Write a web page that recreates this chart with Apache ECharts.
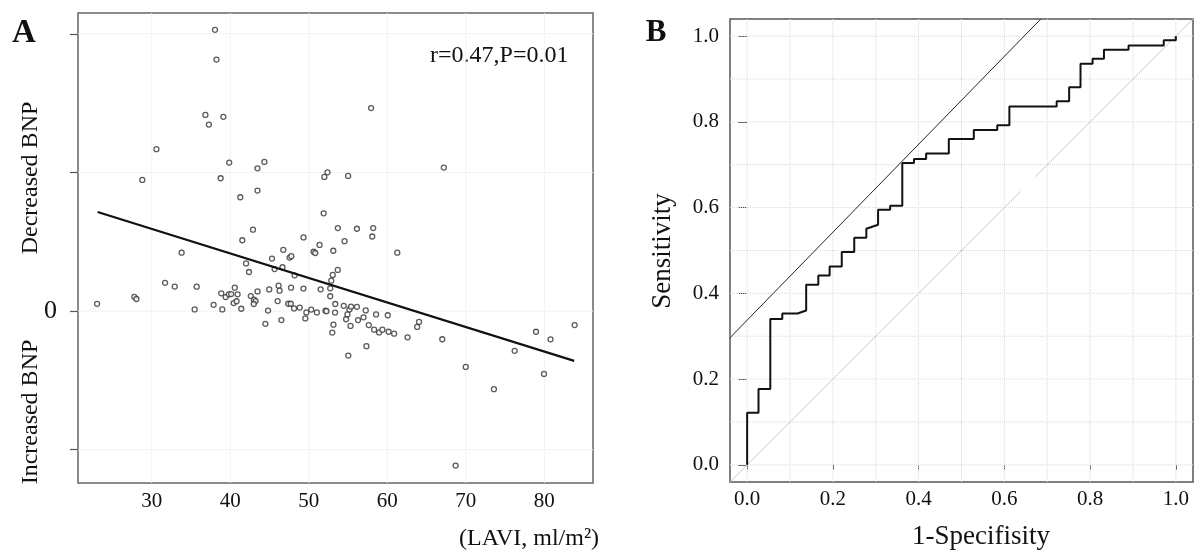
<!DOCTYPE html>
<html><head><meta charset="utf-8">
<script src="https://cdn.jsdelivr.net/npm/echarts@6/dist/echarts.min.js"></script>
<style>html,body{margin:0;padding:0;background:#fff;}#c{width:1194px;height:551px;}</style>
</head><body><div id="c"></div>
<script>
// ---- Panel A data: LAVI (ml/m2) vs change in BNP ----
const laviX = [38.05,38.24,57.93,36.83,39.12,37.27,30.59,39.86,44.34,43.46,67.20,52.38,51.98,55.01,28.79,38.77,43.46,41.27,51.89,
42.89,53.70,56.13,58.20,58.08,41.53,49.33,54.55,51.37,50.61,50.82,53.12,61.27,33.80,46.75,45.31,47.55,47.77,42.01,42.38,45.64,46.65,48.19,53.69,53.05,52.86,52.73,31.69,32.92,35.72,40.57,43.47,44.96,46.15,46.28,47.74,49.32,51.51,
23.03,27.77,28.04,35.46,37.87,38.98,38.85,39.41,39.81,40.11,40.93,40.43,40.80,41.40,42.61,43.02,43.22,42.99,44.47,44.81,46.03,46.51,47.38,47.70,48.12,48.84,49.69,49.55,50.31,51.03,52.13,52.25,52.73,53.37,53.34,53.14,52.99,54.45,54.92,55.18,55.38,54.75,55.31,56.13,56.27,56.97,57.25,57.64,58.57,60.06,58.32,58.96,59.37,60.16,60.87,57.34,55.03,62.58,64.04,63.80,67.00,69.99,68.70,73.58,76.22,78.94,79.96,80.79,83.86];
const bnpY = [202.9,181.4,146.4,141.5,140.1,134.5,116.8,107.1,107.6,103.0,103.5,100.1,96.8,97.5,94.6,95.8,86.9,82.1,70.5,
58.7,59.9,59.4,59.9,53.8,51.1,53.1,50.4,47.7,42.8,41.9,43.5,42.1,42.1,44.2,37.9,38.6,39.6,34.4,28.2,30.3,31.6,25.8,29.7,26.1,21.9,16.4,20.4,17.7,17.6,16.9,14.2,15.6,18.3,14.7,16.9,16.2,15.7,
5.2,10.3,8.7,1.2,4.5,1.2,12.8,10.1,12.1,12.3,12.1,5.8,7.1,1.7,10.8,8.2,7.2,5.1,-9.2,0.4,7.2,-6.5,5.3,5.3,1.9,2.5,-1.0,-5.3,1.1,-1.0,0.3,-0.1,10.7,5.1,-1.1,-9.8,-15.5,3.8,-2.4,1.2,3.2,-5.9,-10.7,3.1,-6.5,-4.5,0.5,-10.1,-2.4,-3.0,-13.4,-15.4,-13.4,-14.9,-16.3,-25.3,-32.1,-18.9,-7.8,-11.4,-20.3,-40.3,-111.4,-56.3,-28.7,-14.9,-45.3,-20.4,-10.1];
const regX = [23.1, 83.8];
const regY = [71.5, -35.9];
const aXTicks = [30, 40, 50, 60, 70, 80];
const aYTicks = [-100, 0, 100, 200];
const aYLabels = [0];

// ---- Panel B data: ROC curve ----
const rocFpr = [0,0,0.0265,0.0265,0.054,0.054,0.082,0.082,0.1174,0.1377,0.1377,0.166,0.166,0.1924,0.1924,0.2207,0.2207,0.2498,0.2498,0.278,0.278,0.3054,0.3054,0.3336,0.3336,0.3619,0.3619,0.3892,0.3892,0.4175,0.4175,0.4704,0.4704,0.5287,0.5287,0.5834,0.5834,0.6117,0.6117,0.722,0.722,0.7511,0.7511,0.7776,0.7776,0.8058,0.8058,0.8323,0.8323,0.8897,0.8897,0.9718,0.9718,1.0,1.0];
const rocSens = [0,0.1215,0.1215,0.177,0.177,0.340,0.340,0.353,0.353,0.360,0.420,0.420,0.4416,0.4416,0.4626,0.4626,0.4963,0.4963,0.5297,0.5297,0.5507,0.560,0.595,0.595,0.6044,0.6044,0.7042,0.7042,0.7136,0.7136,0.726,0.726,0.7603,0.7603,0.7813,0.7813,0.792,0.792,0.8357,0.8357,0.8481,0.8481,0.8808,0.8808,0.9355,0.9355,0.9472,0.9472,0.9682,0.9682,0.9782,0.9782,0.9907,0.9907,1.0];
const diag1 = [-0.04, 0.638];
const diag2 = [0.672, 1.04];
const tanX = [-0.0415, 0.685];
const tanY = [0.295, 1.04];
const bTicks = [0, 0.2, 0.4, 0.6, 0.8, 1.0];
const bGrid = [0, 0.1, 0.2, 0.3, 0.4, 0.5, 0.6, 0.7, 0.8, 0.9, 1.0];

const FONT = 'Liberation Serif';
const chart = echarts.init(document.getElementById('c'), null, {renderer: 'canvas'});
const pairs = (xs, ys) => xs.map((x, i) => [x, ys[i]]);

// grid-line helper series (drawn underneath the data)
function gridSeries(axisIdx, values, xmin, xmax, ymin, ymax, style) {
  const out = [];
  values.forEach(v => {
    out.push({type: 'line', xAxisIndex: axisIdx, yAxisIndex: axisIdx, data: [[v, ymin], [v, ymax]],
      symbol: 'none', silent: true, z: 1, lineStyle: style});
    out.push({type: 'line', xAxisIndex: axisIdx, yAxisIndex: axisIdx, data: [[xmin, v], [xmax, v]],
      symbol: 'none', silent: true, z: 1, lineStyle: style});
  });
  return out;
}
const aGridLines = [];
aXTicks.forEach(v => aGridLines.push({type: 'line', xAxisIndex: 0, yAxisIndex: 0, data: [[v, -124], [v, 215]],
  symbol: 'none', silent: true, z: 1, lineStyle: {color: '#f2f2f2', width: 1}}));
aYTicks.forEach(v => aGridLines.push({type: 'line', xAxisIndex: 0, yAxisIndex: 0, data: [[20.6, v], [86.2, v]],
  symbol: 'none', silent: true, z: 1, lineStyle: {color: '#f2f2f2', width: 1}}));
const bGridLines = gridSeries(1, bGrid, -0.04, 1.04, -0.04, 1.04, {color: '#d9d9d9', width: 1, type: 'dotted'});

const option = {
  animation: false,
  backgroundColor: '#fff',
  textStyle: {fontFamily: FONT, color: '#111'},
  grid: [
    {left: 78, top: 13, width: 515, height: 470, show: true, borderColor: '#666', borderWidth: 1.5, backgroundColor: 'transparent'},
    {left: 730, top: 19, width: 463, height: 463, show: true, borderColor: '#555', borderWidth: 1.5, backgroundColor: 'transparent'}
  ],
  xAxis: [
    {gridIndex: 0, type: 'value', min: 20.6, max: 86.2,
     axisLine: {show: false}, splitLine: {show: false},
     axisTick: {show: false, customValues: aXTicks},
     axisLabel: {customValues: aXTicks, fontFamily: FONT, fontSize: 21, color: '#111', margin: 8}},
    {gridIndex: 1, type: 'value', min: -0.04, max: 1.04,
     axisLine: {show: false}, splitLine: {show: false},
     axisTick: {show: true, customValues: bTicks, length: 5, lineStyle: {color: '#555'}},
     axisLabel: {customValues: bTicks, fontFamily: FONT, fontSize: 21, color: '#111', margin: 7,
       formatter: v => v.toFixed(1)}}
  ],
  yAxis: [
    {gridIndex: 0, type: 'value', min: -124, max: 215,
     axisLine: {show: false}, splitLine: {show: false},
     axisTick: {show: true, customValues: aYTicks, length: 8, lineStyle: {color: '#555', width: 1.2}},
     axisLabel: {customValues: aYLabels, fontFamily: FONT, fontSize: 26, color: '#111', margin: 21}},
    {gridIndex: 1, type: 'value', min: -0.04, max: 1.04,
     axisLine: {show: false}, splitLine: {show: false},
     axisTick: {show: true, customValues: bTicks, length: 9, lineStyle: {color: '#555'}},
     axisLabel: {customValues: bTicks, fontFamily: FONT, fontSize: 21, color: '#111', margin: 11,
       formatter: v => v.toFixed(1)}}
  ],
  series: aGridLines.concat(bGridLines).concat([
    {type: 'scatter', xAxisIndex: 0, yAxisIndex: 0, data: pairs(laviX, bnpY), symbol: 'circle', symbolSize: 5,
     itemStyle: {color: '#fff', borderColor: '#333', borderWidth: 1.3}, z: 3},
    {type: 'line', xAxisIndex: 0, yAxisIndex: 0, data: pairs(regX, regY), symbol: 'none',
     lineStyle: {color: '#111', width: 2.2}, z: 4},
    {type: 'line', xAxisIndex: 1, yAxisIndex: 1, data: pairs(diag1, diag1), symbol: 'none',
     lineStyle: {color: '#cccccc', width: 1}, z: 2},
    {type: 'line', xAxisIndex: 1, yAxisIndex: 1, data: pairs(diag2, diag2), symbol: 'none',
     lineStyle: {color: '#cccccc', width: 1}, z: 2},
    {type: 'line', xAxisIndex: 1, yAxisIndex: 1, data: pairs(tanX, tanY), symbol: 'none',
     lineStyle: {color: '#1c2240', width: 1}, z: 3},
    {type: 'line', xAxisIndex: 1, yAxisIndex: 1, data: pairs(rocFpr, rocSens), symbol: 'none',
     lineStyle: {color: '#111', width: 2}, z: 4}
  ]),
  graphic: [
    {type: 'text', x: 24, y: 33, style: {text: 'A', font: 'bold 33px "Liberation Serif"', fill: '#111', align: 'center', verticalAlign: 'middle', textAlign: 'center', textVerticalAlign: 'middle'}},
    {type: 'text', x: 656, y: 33, style: {text: 'B', font: 'bold 31px "Liberation Serif"', fill: '#111', align: 'center', verticalAlign: 'middle', textAlign: 'center', textVerticalAlign: 'middle'}},
    {type: 'text', x: 31, y: 178, rotation: Math.PI / 2, style: {text: 'Decreased BNP', font: '24px "Liberation Serif"', fill: '#111', align: 'center', verticalAlign: 'middle', textAlign: 'center', textVerticalAlign: 'middle'}},
    {type: 'text', x: 31, y: 412, rotation: Math.PI / 2, style: {text: 'Increased BNP', font: '24px "Liberation Serif"', fill: '#111', align: 'center', verticalAlign: 'middle', textAlign: 'center', textVerticalAlign: 'middle'}},
    {type: 'text', x: 430, y: 56, style: {text: 'r=0.47,P=0.01', font: '24px "Liberation Serif"', fill: '#111', align: 'left', verticalAlign: 'middle', textAlign: 'left', textVerticalAlign: 'middle'}},
    {type: 'text', x: 459, y: 539, style: {text: '(LAVI, ml/m²)', font: '24px "Liberation Serif"', fill: '#111', align: 'left', verticalAlign: 'middle', textAlign: 'left', textVerticalAlign: 'middle'}},
    {type: 'text', x: 663, y: 251, rotation: Math.PI / 2, style: {text: 'Sensitivity', font: '27px "Liberation Serif"', fill: '#111', align: 'center', verticalAlign: 'middle', textAlign: 'center', textVerticalAlign: 'middle'}},
    {type: 'text', x: 981, y: 537, style: {text: '1-Specifisity', font: '27px "Liberation Serif"', fill: '#111', align: 'center', verticalAlign: 'middle', textAlign: 'center', textVerticalAlign: 'middle'}}
  ]
};
chart.setOption(option);
</script>
</body></html>
